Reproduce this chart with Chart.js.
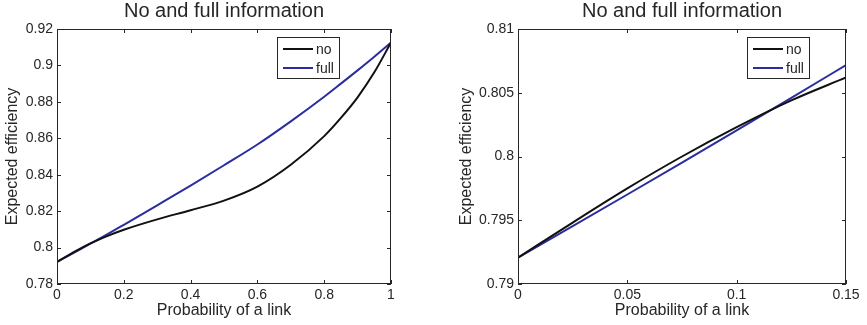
<!DOCTYPE html>
<html>
<head>
<meta charset="utf-8">
<script src="https://cdn.jsdelivr.net/npm/chart.js@4.4.0/dist/chart.umd.min.js"></script>
<style>
  html, body { margin: 0; padding: 0; background: #fff; }
  #wrap { position: relative; width: 867px; height: 325px; }
  #wrap canvas { position: absolute; top: 0; }
</style>
</head>
<body>
<div id="wrap">
  <canvas id="chartA" width="433" height="325" style="left:0"></canvas>
  <canvas id="chartB" width="433" height="325" style="left:434px"></canvas>
</div>
<script>
var chartTitle = 'No and full information';
var seriesNames = ['no', 'full'];
var xTitle = 'Probability of a link';
var yTitle = 'Expected efficiency';

// left panel, whole range of p
var probA = [0, 0.05, 0.1, 0.15, 0.2, 0.3, 0.4, 0.5, 0.6, 0.7, 0.8, 0.85, 0.9, 0.95, 1];
var noA   = [0.7921, 0.7975, 0.8023, 0.8063, 0.8098, 0.8155, 0.8205, 0.8258, 0.8335, 0.8455, 0.8612, 0.8712, 0.8825, 0.8962, 0.9126];
var fullA = [0.7921, 0.7971, 0.8021, 0.8072, 0.8125, 0.8232, 0.8340, 0.8452, 0.8566, 0.8693, 0.8828, 0.8900, 0.8973, 0.9048, 0.9126];
var xTicksA = [0, 0.2, 0.4, 0.6, 0.8, 1];
var yTicksA = [0.78, 0.8, 0.82, 0.84, 0.86, 0.88, 0.9, 0.92];

// right panel, zoom on small p
var probB = [0, 0.025, 0.05, 0.075, 0.1, 0.125, 0.15];
var noB   = [0.79207, 0.79482, 0.7975, 0.8000, 0.8023, 0.8044, 0.8062];
var fullB = [0.79207, 0.79454, 0.79702, 0.79952, 0.80205, 0.8046, 0.80717];
var xTicksB = [0, 0.05, 0.1, 0.15];
var yTicksB = [0.79, 0.795, 0.8, 0.805, 0.81];

var textColor = '#262626';
var lineColors = ['#111111', '#2b2d9e'];

Chart.defaults.font.family = '"Liberation Sans", Arial, Helvetica, sans-serif';
Chart.defaults.color = textColor;

function fmt(v) {
    return String(Number(Number(v).toFixed(4)));
}

function toPoints(xs, ys) {
    return xs.map(function(x, i) { return {x: x, y: ys[i]}; });
}

// matlab style: box round the axes, ticks pointing in, title, boxed legend
var matlabFrame = {
    id: 'matlabFrame',
    afterDraw: function(chart, args, opts) {
        var ctx = chart.ctx, a = chart.chartArea;
        var xs = chart.scales.x, ys = chart.scales.y;
        ctx.save();

        ctx.fillStyle = textColor;
        ctx.font = '20px "Liberation Sans", Arial, sans-serif';
        ctx.textAlign = 'center';
        ctx.textBaseline = 'middle';
        ctx.fillText(chartTitle, (a.left + a.right) / 2, 11);

        ctx.strokeStyle = '#262626';
        ctx.lineWidth = 1;
        ctx.strokeRect(a.left + 0.5, a.top + 0.5, a.right - a.left - 1, a.bottom - a.top - 1);

        var tl = 4;
        ctx.beginPath();
        opts.xTicks.forEach(function(v) {
            var px = Math.round(xs.getPixelForValue(v)) + 0.5;
            ctx.moveTo(px, a.bottom); ctx.lineTo(px, a.bottom - tl);
            ctx.moveTo(px, a.top); ctx.lineTo(px, a.top + tl);
        });
        opts.yTicks.forEach(function(v) {
            var py = Math.round(ys.getPixelForValue(v)) + 0.5;
            ctx.moveTo(a.left, py); ctx.lineTo(a.left + tl, py);
            ctx.moveTo(a.right, py); ctx.lineTo(a.right - tl, py);
        });
        ctx.stroke();

        // legend box
        var bx = a.right - opts.legendRight - opts.legendW;
        var by = a.top + opts.legendTop;
        ctx.fillStyle = '#fff';
        ctx.fillRect(bx, by, opts.legendW, 42);
        ctx.strokeStyle = '#262626';
        ctx.strokeRect(bx + 0.5, by + 0.5, opts.legendW - 1, 41);
        ctx.font = '14px "Liberation Sans", Arial, sans-serif';
        ctx.textAlign = 'left';
        chart.data.datasets.forEach(function(ds, i) {
            var ly = by + 12 + i * 19;
            ctx.strokeStyle = ds.borderColor;
            ctx.lineWidth = 2;
            ctx.beginPath();
            ctx.moveTo(bx + 6, ly); ctx.lineTo(bx + 36, ly);
            ctx.stroke();
            ctx.fillStyle = textColor;
            ctx.fillText(ds.label, bx + 39, ly + 1);
        });
        ctx.restore();
    }
};

function makeChart(id, p, no, full, xTicks, yTicks, yWidth, rightPad, yTitlePad, legendRight) {
    return new Chart(document.getElementById(id), {
        type: 'line',
        data: {
            datasets: [
                { label: seriesNames[0], data: toPoints(p, no), borderColor: lineColors[0] },
                { label: seriesNames[1], data: toPoints(p, full), borderColor: lineColors[1] }
            ]
        },
        options: {
            responsive: false,
            animation: false,
            layout: { padding: { top: 29, right: rightPad, left: 0, bottom: 0 } },
            elements: {
                point: { radius: 0 },
                line: { borderWidth: 2, cubicInterpolationMode: 'monotone', fill: false }
            },
            plugins: {
                legend: { display: false },
                title: { display: false },
                tooltip: { enabled: false },
                matlabFrame: { xTicks: xTicks, yTicks: yTicks, legendRight: legendRight, legendTop: 8, legendW: 63 }
            },
            scales: {
                x: {
                    type: 'linear',
                    min: xTicks[0],
                    max: xTicks[xTicks.length - 1],
                    afterBuildTicks: function(s) { s.ticks = xTicks.map(function(v) { return {value: v}; }); },
                    afterFit: function(s) { s.height = 41; },
                    grid: { display: false, drawTicks: false },
                    border: { display: false },
                    ticks: { callback: fmt, font: { size: 14 }, padding: 3, maxRotation: 0, autoSkip: false },
                    title: { display: true, text: xTitle, font: { size: 16 }, padding: { top: 0, bottom: 5 } }
                },
                y: {
                    type: 'linear',
                    min: yTicks[0],
                    max: yTicks[yTicks.length - 1],
                    afterBuildTicks: function(s) { s.ticks = yTicks.map(function(v) { return {value: v}; }); },
                    afterFit: function(s) { s.width = yWidth; },
                    grid: { display: false, drawTicks: false },
                    border: { display: false },
                    ticks: { callback: fmt, font: { size: 14 }, padding: 4, autoSkip: false },
                    title: { display: true, text: yTitle, font: { size: 16 }, padding: { top: yTitlePad, bottom: 0 } }
                }
            }
        },
        plugins: [matlabFrame]
    });
}

makeChart('chartA', probA, noA, fullA, xTicksA, yTicksA, 57, 42, 3, 51);
makeChart('chartB', probB, noB, fullB, xTicksB, yTicksB, 84, 21, 23, 36);
</script>
</body>
</html>
